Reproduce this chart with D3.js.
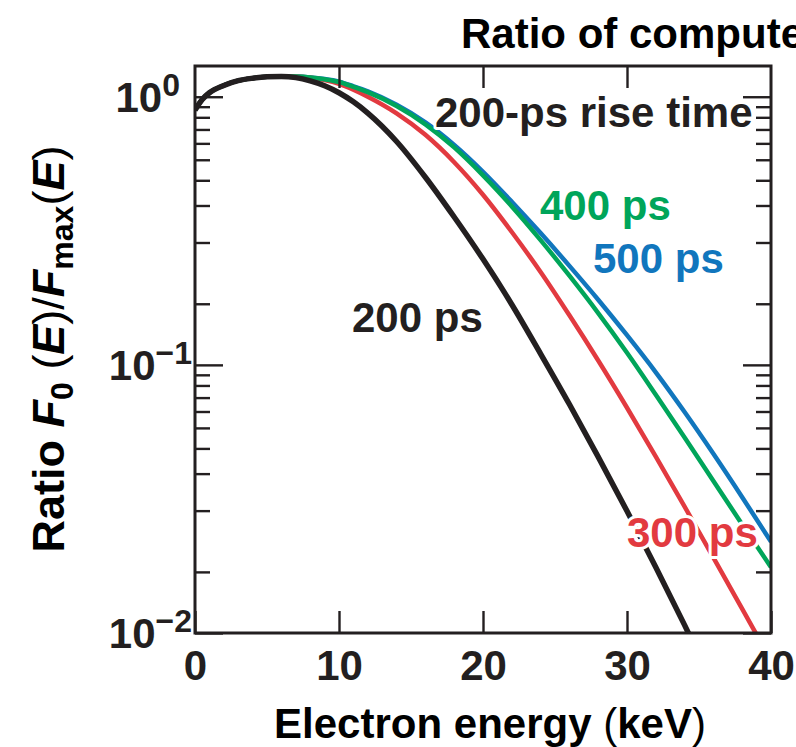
<!DOCTYPE html>
<html>
<head>
<meta charset="utf-8">
<script src="https://cdn.jsdelivr.net/npm/d3@7"></script>
<style>
html, body { margin: 0; padding: 0; background: #fff; }
svg { display: block; font-family: "Liberation Sans", Arial, sans-serif; font-weight: bold; }
</style>
</head>
<body>
<svg id="chart" width="796" height="747"></svg>
<script>
// electron energy (keV) at which each curve was read
var energy = [0, 0.5, 1, 2, 3, 4, 5, 6, 7, 8, 9, 10, 11, 12, 14, 16, 18, 20, 22, 24, 26, 28, 30, 32, 34, 36, 38, 40];
// ratio F0(E)/Fmax(E) per rise time
var rise200 = [0.891, 0.977, 1.035, 1.102, 1.148, 1.172, 1.186, 1.189, 1.178, 1.146, 1.099, 1.035, 0.957, 0.869, 0.681, 0.501, 0.356, 0.248, 0.168, 0.110, 0.0713, 0.0454, 0.0285, 0.0176, 0.0107, 0.0064, 0.0038, 0.0022];
var rise300 = [0.891, 0.977, 1.035, 1.102, 1.148, 1.172, 1.186, 1.191, 1.189, 1.176, 1.153, 1.117, 1.062, 1.000, 0.867, 0.721, 0.570, 0.431, 0.313, 0.222, 0.153, 0.1038, 0.0692, 0.0455, 0.0296, 0.0191, 0.0123, 0.0079];
var rise400 = [0.891, 0.977, 1.035, 1.102, 1.148, 1.172, 1.186, 1.191, 1.189, 1.180, 1.161, 1.135, 1.089, 1.040, 0.923, 0.789, 0.647, 0.509, 0.390, 0.292, 0.215, 0.156, 0.111, 0.0774, 0.0536, 0.0369, 0.0254, 0.0176];
var rise500 = [0.891, 0.977, 1.035, 1.102, 1.148, 1.172, 1.186, 1.191, 1.189, 1.180, 1.164, 1.138, 1.094, 1.047, 0.933, 0.802, 0.661, 0.525, 0.406, 0.310, 0.234, 0.175, 0.129, 0.0938, 0.0667, 0.0466, 0.0321, 0.0219];

var xTickValues = [0, 10, 20, 30, 40];
var yMajorTicks = [0.01, 0.1, 1];
var yTickExponents = ["\u22122", "\u22121", "0"];
// minor ticks as drawn on the original axis, per decade
var minorMultipliers = [1.69, 2.86, 3.93, 4.88, 5.82, 6.7, 7.55, 8.38, 9.18];

var seriesNames = ["500 ps", "300 ps", "400 ps", "200 ps"];
var seriesValues = [rise500, rise300, rise400, rise200];
var seriesColors = ["#1176bd", "#e23a40", "#00a55a", "#231f20"];
var seriesWidths = [4.5, 4.5, 4.5, 5.5];

var ink = "#231f20";
var svg = d3.select("#chart");
var plotLeft = 195, plotRight = 771, plotTop = 66, plotBottom = 633;

var x = d3.scaleLinear().domain([0, 40]).range([plotLeft, plotRight]);
var y = d3.scaleLog().domain([0.01, 1.302]).range([plotBottom, plotTop]);

var minorTicks = [];
[0.01, 0.1, 1].forEach(function (dec) {
    minorMultipliers.forEach(function (m) {
        if (dec * m < 1.302) { minorTicks.push(dec * m); }
    });
});

svg.append("defs").append("clipPath").attr("id", "plot-clip")
    .append("rect").attr("x", plotLeft).attr("y", plotTop)
    .attr("width", plotRight - plotLeft).attr("height", plotBottom - plotTop);

// curves
var line = d3.line()
    .x(function (d) { return x(d[0]); })
    .y(function (d) { return y(d[1]); })
    .curve(d3.curveMonotoneX);

var curves = svg.append("g").attr("clip-path", "url(#plot-clip)");
seriesValues.forEach(function (vals, i) {
    curves.append("path")
        .datum(energy.map(function (e, j) { return [e, vals[j]]; }))
        .attr("fill", "none")
        .attr("stroke", seriesColors[i])
        .attr("stroke-width", seriesWidths[i])
        .attr("stroke-linejoin", "round")
        .attr("d", line);
});

function styleAxis(g) {
    g.select(".domain").remove();
    g.selectAll(".tick line").attr("stroke", ink).attr("stroke-width", 2.4);
    g.selectAll("text").attr("fill", ink);
}

// x axes, ticks pointing inward
svg.append("g").attr("transform", "translate(0," + plotBottom + ")")
    .call(d3.axisBottom(x).tickValues(xTickValues).tickSizeInner(-22).tickSizeOuter(0).tickPadding(17))
    .call(styleAxis)
    .selectAll("text").attr("font-size", 42).attr("font-family", null).attr("font-weight", "bold");
svg.append("g").attr("transform", "translate(0," + plotTop + ")")
    .call(d3.axisTop(x).tickValues([10, 20, 30]).tickSizeInner(-22).tickSizeOuter(0).tickFormat(""))
    .call(styleAxis);

// y axes, both sides, major and minor
svg.append("g").attr("transform", "translate(" + plotLeft + ",0)")
    .call(d3.axisLeft(y).tickValues(yMajorTicks).tickSizeInner(-28).tickSizeOuter(0).tickFormat(""))
    .call(styleAxis);
svg.append("g").attr("transform", "translate(" + plotLeft + ",0)")
    .call(d3.axisLeft(y).tickValues(minorTicks).tickSizeInner(-15).tickSizeOuter(0).tickFormat(""))
    .call(styleAxis);
svg.append("g").attr("transform", "translate(" + plotRight + ",0)")
    .call(d3.axisRight(y).tickValues(yMajorTicks).tickSizeInner(-28).tickSizeOuter(0).tickFormat(""))
    .call(styleAxis);
svg.append("g").attr("transform", "translate(" + plotRight + ",0)")
    .call(d3.axisRight(y).tickValues(minorTicks).tickSizeInner(-15).tickSizeOuter(0).tickFormat(""))
    .call(styleAxis);

// frame
svg.append("rect")
    .attr("x", plotLeft).attr("y", plotTop)
    .attr("width", plotRight - plotLeft).attr("height", plotBottom - plotTop)
    .attr("fill", "none").attr("stroke", ink).attr("stroke-width", 3);

// y tick labels 10^n
yMajorTicks.forEach(function (v, i) {
    var t = svg.append("text")
        .attr("x", v === 1 ? 180 : 192).attr("y", y(v) + 15)
        .attr("text-anchor", "end").attr("fill", ink).attr("font-size", 42);
    t.append("tspan").text("10");
    t.append("tspan").attr("font-size", 32).attr("dy", -16).text(yTickExponents[i]);
});

// series labels with white halo
var labels = [
    { text: "200-ps rise time", x: 435, y: 127, color: ink },
    { text: "400 ps", x: 540, y: 220, color: seriesColors[2] },
    { text: "500 ps", x: 593, y: 273, color: seriesColors[0] },
    { text: "200 ps", x: 352, y: 332, color: ink },
    { text: "300 ps", x: 627, y: 547, color: seriesColors[1] }
];
labels.forEach(function (l) {
    svg.append("text")
        .attr("x", l.x).attr("y", l.y)
        .attr("font-size", 42)
        .attr("fill", l.color)
        .attr("stroke", "#fff").attr("stroke-width", 6).attr("paint-order", "stroke")
        .attr("stroke-linejoin", "round")
        .text(l.text);
});

// title, runs off the right edge
svg.append("text")
    .attr("x", 461).attr("y", 48)
    .attr("font-size", 42).attr("fill", "#000")
    .text("Ratio of computed");

// x axis title
var xt = svg.append("text")
    .attr("x", 490).attr("y", 738)
    .attr("text-anchor", "middle").attr("font-size", 42).attr("fill", "#000");
xt.append("tspan").text("Electron energy ");
xt.append("tspan").attr("font-weight", "normal").text("(");
xt.append("tspan").text("keV");
xt.append("tspan").attr("font-weight", "normal").text(")");

// y axis title
var yt = svg.append("text")
    .attr("transform", "translate(64,349) rotate(-90)")
    .attr("text-anchor", "middle").attr("font-size", 45).attr("fill", "#000");
yt.append("tspan").text("Ratio ");
yt.append("tspan").attr("font-style", "italic").text("F");
yt.append("tspan").attr("font-size", 32).attr("dy", 9).text("0");
yt.append("tspan").attr("font-weight", "normal").attr("dy", -9).text(" (");
yt.append("tspan").attr("font-style", "italic").text("E");
yt.append("tspan").attr("font-weight", "normal").text(")/");
yt.append("tspan").attr("font-style", "italic").text("F");
yt.append("tspan").attr("font-size", 32).attr("dy", 9).text("max");
yt.append("tspan").attr("font-weight", "normal").attr("dy", -9).text("(");
yt.append("tspan").attr("font-style", "italic").text("E");
yt.append("tspan").attr("font-weight", "normal").text(")");
</script>
</body>
</html>
